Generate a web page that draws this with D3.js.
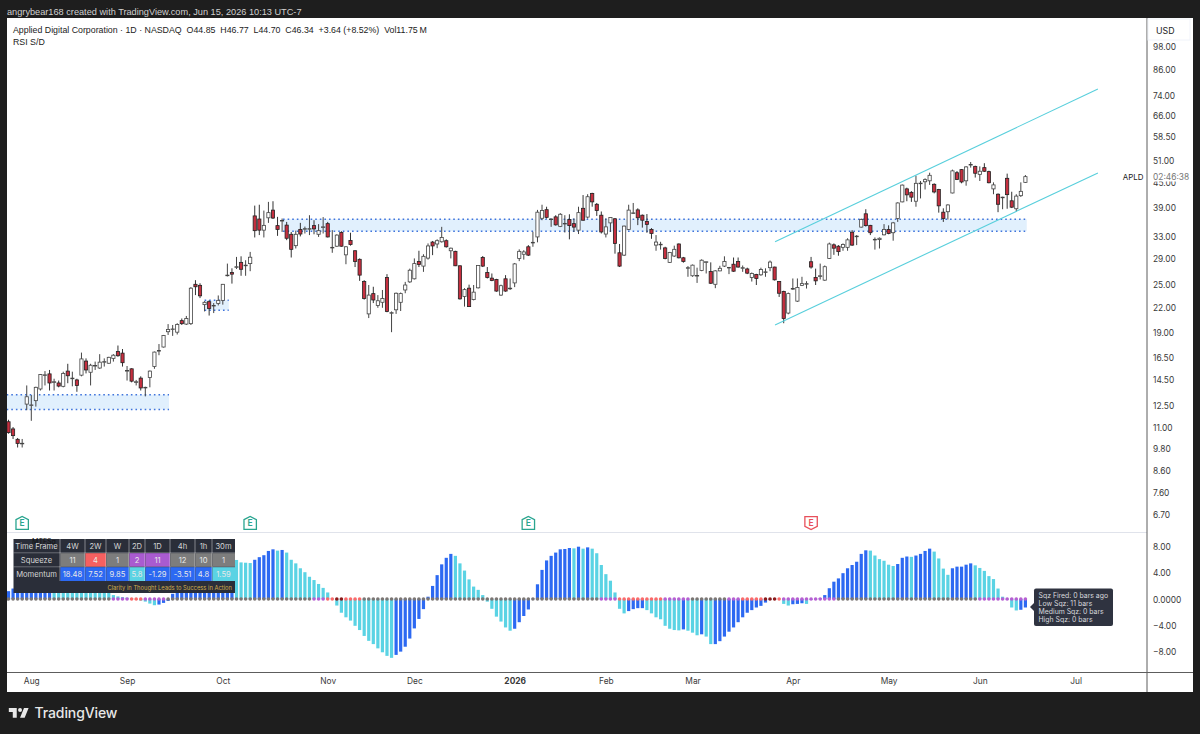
<!DOCTYPE html>
<html>
<head>
<meta charset="utf-8">
<script src="https://cdn.jsdelivr.net/npm/d3@7"></script>
<style>
  html, body { margin: 0; padding: 0; background: #1e1e1e; }
  svg { display: block; font-family: Inter, "Liberation Sans", sans-serif; }
</style>
</head>
<body>
<svg id="chart" width="1200" height="734"></svg>
<script>
// daily candles, APLD, one entry per trading day from late Jul 2025
const opens = [11.37,10.91,10.28,10.02,12.58,12.5,12.83,13.72,14.84,14.96,
  14.25,14.2,13.93,15.2,14.55,14.45,14.85,16.1,15.1,15.65,
  15.47,16.0,15.9,16.35,17.0,16.85,15.2,15.4,14.25,14.6,
  13.82,14.65,15.6,17.05,17.45,19.05,19.3,19.0,20.3,19.9,
  19.95,25.0,24.85,22.25,22.63,22.12,22.4,22.8,26.3,26.75,
  27.6,28.35,27.85,28.15,37.0,36.35,34.1,36.6,38.25,35.0,
  36.0,35.1,33.3,31.2,34.25,34.35,34.35,35.0,33.3,34.7,
  35.4,30.85,31.1,33.65,29.6,32.15,30.3,28.85,25.4,21.1,
  23.7,22.15,22.55,26.0,21.2,21.6,22.55,24.2,25.35,25.8,
  28.5,27.75,29.05,31.85,31.5,31.9,32.1,30.3,30.2,27.8,
  23.3,24.45,22.9,24.5,29.15,26.75,25.9,25.7,23.5,25.8,
  24.4,25.2,29.0,29.7,31.0,31.75,32.8,36.5,38.35,36.3,
  36.8,34.85,35.4,36.25,35.4,34.1,38.65,36.75,42.1,39.55,
  37.15,33.35,35.55,36.4,29.95,29.55,34.25,37.6,38.3,37.15,
  35.85,34.25,31.3,31.4,30.8,28.35,29.4,31.5,29.1,27.45,
  26.25,26.25,27.05,28.4,26.9,25.0,27.0,27.75,27.5,28.05,
  28.5,27.45,27.3,26.0,26.45,26.4,26.8,27.5,27.6,25.4,
  24.0,21.2,24.35,22.7,24.85,25.05,28.45,26.0,26.2,25.6,
  29.0,31.35,31.1,30.9,30.9,33.7,32.9,34.7,37.45,35.05,
  32.3,32.3,33.2,34.25,33.6,36.45,40.1,43.2,42.35,40.25,
  44.6,45.0,45.25,44.35,43.05,37.8,37.9,42.2,47.4,48.25,
  45.25,49.6,49.15,46.95,48.8,47.7,43.2,41.9,41.1,45.9,
  40.35,38.55,41.55,44.85];
const highs = [11.5,11.03,10.36,10.3,14.0,13.25,13.9,14.95,15.2,15.3,
  14.55,14.4,15.15,15.85,15.15,14.55,16.9,16.35,15.85,16.05,
  16.75,16.35,16.5,16.75,17.6,17.25,15.65,15.45,14.45,14.75,
  13.9,15.25,17.0,17.75,18.7,19.9,19.8,20.0,20.55,20.85,
  24.6,25.6,25.15,22.7,22.8,22.45,23.45,25.05,28.15,27.4,
  29.25,29.35,28.7,30.1,39.25,39.45,38.15,40.1,40.25,36.8,
  36.45,35.75,33.75,34.0,35.55,34.8,37.15,36.1,35.3,36.75,
  35.75,34.1,33.3,33.9,31.1,33.6,30.4,29.0,25.6,24.9,
  24.65,23.5,24.2,26.5,21.4,23.85,23.85,25.35,27.35,29.0,
  30.3,29.7,31.6,32.05,32.35,34.75,32.35,30.85,30.3,27.85,
  24.45,24.95,24.9,27.9,29.4,27.6,26.6,25.8,24.95,26.35,
  25.85,28.25,30.55,30.4,31.3,33.8,38.3,39.45,39.0,36.45,
  37.15,37.6,37.15,37.35,36.45,39.0,41.7,41.9,42.25,39.85,
  37.95,36.45,36.65,36.5,31.5,35.0,39.45,39.85,38.65,37.3,
  37.4,34.5,33.15,31.9,31.0,30.1,31.2,31.6,29.25,27.75,
  28.0,27.5,28.85,28.45,28.35,27.1,27.8,29.35,27.6,29.15,
  29.15,27.85,27.5,26.75,26.55,27.5,27.4,28.65,27.65,25.45,
  24.1,23.85,25.85,25.85,26.1,25.45,29.25,27.35,28.15,27.85,
  31.75,31.6,31.3,31.6,32.55,34.1,33.15,36.45,38.45,35.15,
  32.7,32.7,35.3,35.05,35.75,40.0,44.3,43.5,42.65,46.6,
  45.2,45.9,47.4,44.6,43.2,38.65,39.55,48.25,47.85,48.4,
  49.2,50.4,49.35,49.15,50.05,47.95,44.85,42.1,41.3,47.15,
  42.5,41.9,44.85,46.77];
const lows = [10.62,10.3,9.81,9.81,12.15,11.43,12.4,13.6,14.0,13.6,
  13.6,13.85,13.85,14.18,13.93,13.5,14.75,15.0,14.0,15.3,
  15.4,15.6,15.85,16.05,16.5,15.6,14.4,14.25,14.0,13.6,
  13.15,13.85,15.4,16.65,17.4,18.7,18.6,18.75,19.8,19.8,
  19.8,23.5,23.1,21.4,20.9,21.2,22.15,22.25,26.15,25.1,
  27.3,26.25,26.25,26.95,32.7,33.15,32.7,35.55,36.35,33.0,
  33.75,32.2,29.15,30.7,32.9,33.45,33.15,33.3,32.8,33.45,
  32.7,29.95,31.0,31.0,28.05,31.2,27.6,25.5,22.9,20.6,
  22.45,21.85,21.85,21.3,19.0,21.1,21.45,23.75,25.2,25.7,
  27.6,26.85,28.8,29.55,30.75,31.75,30.85,29.0,27.75,22.9,
  22.0,21.95,22.8,24.4,27.6,25.85,25.45,23.95,23.4,23.95,
  24.2,24.6,28.55,28.8,29.4,31.0,31.8,36.1,36.45,34.75,
  35.0,34.7,33.65,32.35,33.75,33.35,36.0,36.45,39.0,37.0,
  33.45,32.7,33.75,29.8,27.6,29.4,34.1,37.4,35.1,34.6,
  33.6,32.45,30.3,30.5,28.85,28.25,29.25,29.0,28.3,26.1,
  26.1,25.2,26.95,26.6,25.05,24.45,26.95,27.6,26.5,26.85,
  27.5,26.85,26.5,25.4,24.9,26.25,26.1,26.95,25.55,23.25,
  20.0,21.05,24.2,22.6,24.75,24.4,27.35,24.9,25.7,25.5,
  28.9,29.6,29.45,30.3,30.3,31.15,31.3,34.6,34.8,33.15,
  30.5,30.7,33.1,33.3,32.1,35.75,40.0,40.25,40.1,39.0,
  40.9,43.05,44.2,42.1,37.7,35.75,36.25,42.1,45.45,44.6,
  44.0,48.8,46.1,45.2,47.6,44.6,41.9,37.8,38.45,38.55,
  38.7,37.9,41.25,44.7];
const closes = [10.68,10.5,10.04,10.05,13.12,12.52,13.85,14.9,14.88,14.2,
  14.3,13.95,15.0,14.8,14.6,14.0,16.3,15.3,15.72,15.7,
  16.0,16.05,16.45,16.65,16.6,15.95,15.25,14.35,14.3,13.8,
  13.85,15.2,16.95,17.1,18.65,19.3,19.35,19.85,19.95,20.55,
  24.45,24.65,23.4,22.55,21.75,22.15,22.8,25.0,26.35,26.5,
  27.65,27.25,27.9,29.2,34.0,34.1,35.05,37.7,36.55,34.25,
  36.05,32.55,30.55,33.3,33.35,34.4,34.4,34.35,34.0,34.75,
  32.8,30.9,33.15,31.1,31.0,31.4,28.5,26.35,23.05,23.5,
  22.85,22.75,23.05,21.4,21.25,23.75,23.7,24.9,27.1,28.15,
  28.0,29.35,31.15,31.15,32.1,32.7,31.0,30.75,27.8,23.0,
  24.25,22.0,23.9,27.85,27.75,26.0,25.55,24.05,24.8,24.05,
  24.45,28.1,30.2,30.1,29.55,31.8,37.8,38.15,36.7,36.35,
  35.15,37.35,35.45,35.0,34.7,37.7,36.1,41.3,40.1,38.15,
  33.75,34.75,36.65,31.6,27.75,34.9,38.25,37.65,36.6,36.1,
  35.25,33.45,31.85,31.45,29.0,30.0,30.55,29.1,28.5,27.5,
  27.9,26.3,28.7,28.45,25.15,27.0,27.4,28.5,27.55,26.95,
  27.6,27.5,26.65,26.6,25.85,27.2,26.85,28.4,25.65,23.75,
  20.55,23.7,24.4,24.55,25.1,25.1,27.6,25.5,26.25,27.65,
  31.5,30.75,30.15,31.4,32.25,31.3,32.95,36.25,35.0,33.6,
  32.35,32.55,34.25,33.45,35.55,39.85,44.15,41.75,41.2,44.6,
  44.65,45.55,46.7,42.45,39.2,36.45,39.4,47.9,45.6,44.95,
  49.0,49.7,47.25,47.8,47.8,44.75,44.2,39.55,41.2,41.8,
  38.9,41.45,42.6,46.34];

// squeeze momentum histogram, same bars as the candles
const momentum = [1.2,1.6,2.0,2.5,3.0,3.5,3.9,4.2,4.4,4.4,
  4.2,4.0,3.7,3.4,3.1,2.8,2.5,2.2,1.9,1.6,
  1.3,1.1,1.0,0.6,0.4,0.3,0.2,0.1,-0.1,-0.25,
  -0.4,-0.7,-0.95,-0.85,-0.6,-0.3,0.8,1.3,1.7,2.1,
  2.6,3.1,3.5,3.9,4.3,4.8,5.2,5.6,5.9,6.2,
  5.97,5.6,5.55,5.5,6.0,6.4,6.7,7.35,7.6,7.4,
  7.5,7.1,6.0,5.45,4.7,4.1,3.4,2.9,2.3,1.7,
  1.0,0.1,-1.0,-2.1,-2.8,-3.3,-4.1,-4.75,-5.65,-6.4,
  -6.9,-7.55,-8.15,-8.7,-9.0,-8.55,-8.05,-7.3,-6.05,-4.5,
  -3.05,-1.55,0.35,2.0,3.65,5.3,6.3,6.9,6.6,5.45,
  4.35,3.0,1.9,1.4,0.6,-0.4,-1.5,-2.7,-3.45,-4.35,
  -4.85,-4.55,-3.55,-2.6,-1.6,0.05,2.25,4.45,5.9,6.6,
  7.1,7.6,7.65,7.8,7.75,8.0,7.7,7.9,7.7,7.0,
  5.2,3.8,2.8,1.0,-1.5,-2.2,-1.85,-1.55,-1.4,-1.4,
  -1.7,-2.2,-2.8,-3.1,-4.1,-4.55,-4.75,-4.8,-4.65,-4.85,
  -5.15,-5.55,-5.4,-5.75,-6.9,-6.9,-6.45,-5.75,-5.0,-4.35,
  -3.55,-2.8,-2.1,-1.7,-1.3,-1.05,-0.55,-0.1,-0.05,0.02,
  -0.75,-1.0,-0.8,-0.75,-0.65,-0.75,-0.1,-0.05,0.1,0.6,
  1.65,2.65,3.15,3.95,4.7,5.2,5.7,6.9,7.45,7.4,
  6.65,6.1,5.85,5.25,5.05,5.35,6.3,6.5,6.45,6.65,
  6.9,7.35,7.7,7.25,6.2,4.65,3.7,4.7,4.95,4.95,
  5.25,5.45,5.15,4.75,4.3,3.5,3.05,1.6,0.35,-0.1,
  -1.3,-1.75,-1.65,-1.3];

// squeeze dots on the zero line, as runs of bars
const squeezeRunLast = [22,26,29,34,66,69,71,73,77,129,133,143,149,157,160,165,168,169,181,212,223];
const squeezeRunState = ["none","low","mid","low","none","low","mid","high","mid","none","low","mid","low","none","low","mid","high","mid","low","none","low"];

const priceTicks = [98,86,74,66,58.5,51,45,39,33,29,25,22,19,16.5,14.5,12.5,11,9.8,8.6,7.6,6.7];
const momentumTicks = [8,4,0,-4,-8];
const monthLabels = ["Aug","Sep","Oct","Nov","Dec","2026","Feb","Mar","Apr","May","Jun","Jul"];
const monthBars = [5,26,47,70,89,111,131,150,172,193,213,234];
const earningsBars = [3,53,114,176];
const earningsBeat = [true,true,true,false];

// demand zones [first bar, last bar, top price, bottom price]
const zoneStart = [-0.4,43,60.2];
const zoneEnd = [35.2,48.3,223.3];
const zoneTop = [13.27,22.8,36.3];
const zoneBottom = [12.2,21.55,33.9];

// channel lines
const channelBars = [168.1,238.9];
const channelUpper = [31.9,76.6];
const channelLower = [19.8,47.35];

// MTF table
const tableFrames = ["4W","2W","W","2D","1D","4h","1h","30m"];
const tableSqueeze = [11,4,1,2,11,12,10,1];
const tableSqueezeState = ["none","high","none","low","low","none","none","none"];
const tableMomentum = ["18.48","7.52","9.85","5.8","-1.29","-3.51","4.8","1.59"];
const tableMomentumUp = [true,true,true,false,true,true,true,false];

const tooltipLines = ["Sqz Fired: 0 bars ago","Low Sqz: 11 bars","Medium Sqz: 0 bars","High Sqz: 0 bars"];

const bg = "#1e1e1e";
const darkBlue = "#2c69f2";
const lightBlue = "#5ad3e4";
const dotColor = {none: "#7b7674", low: "#b65fd2", mid: "#fb6a6a", high: "#8b1a1a"};
const tableCellColor = {none: "#7d7d7d", low: "#a95bd0", high: "#f66060"};
const labelFont = '"Liberation Sans", Arial, sans-serif';

const svg = d3.select("#chart");

// scales
const x = d3.scaleLinear().domain([0, 223]).range([8.5, 1025.4]);
const y = d3.scaleLog().domain([98, 6.7]).range([46, 514]);
const m = d3.scaleLinear().domain([8, -8]).range([546.7, 651.3]);

// panel
svg.append("rect").attr("width", 1200).attr("height", 734).attr("fill", bg);
svg.append("rect").attr("x", 7).attr("y", 18).attr("width", 1186).attr("height", 674).attr("fill", "#fff");

svg.append("defs").append("clipPath").attr("id", "plot")
  .append("rect").attr("x", 7).attr("y", 18).attr("width", 1140).attr("height", 654);

const plot = svg.append("g").attr("clip-path", "url(#plot)");

// zones
zoneStart.forEach(function(s, i) {
  const x0 = x(s), x1 = x(zoneEnd[i]), y0 = y(zoneTop[i]), y1 = y(zoneBottom[i]);
  plot.append("rect").attr("x", x0).attr("y", y0).attr("width", x1 - x0).attr("height", y1 - y0).attr("fill", "#e1f0fd");
  [y0, y1].forEach(function(ly) {
    plot.append("line").attr("x1", x0).attr("x2", x1).attr("y1", ly).attr("y2", ly)
      .attr("stroke", "#3f74dc").attr("stroke-width", 1.5).attr("stroke-dasharray", "1.6 3");
  });
});

// candles
const bars = d3.range(opens.length);
const candle = plot.append("g").selectAll("g").data(bars).enter().append("g");
candle.append("line")
  .attr("x1", i => x(i)).attr("x2", i => x(i))
  .attr("y1", i => y(highs[i])).attr("y2", i => y(lows[i]))
  .attr("stroke", i => closes[i] >= opens[i] ? "#444" : "#333")
  .attr("stroke-width", 1);
candle.append("rect")
  .attr("x", i => x(i) - 1.6)
  .attr("width", 3.2)
  .attr("y", i => y(Math.max(opens[i], closes[i])))
  .attr("height", i => Math.max(0.6, Math.abs(y(opens[i]) - y(closes[i]))))
  .attr("fill", i => closes[i] >= opens[i] ? "#fff" : "#c62f3f")
  .attr("stroke", i => closes[i] >= opens[i] ? "#444" : "#222")
  .attr("stroke-width", 0.8);

// channel
[channelUpper, channelLower].forEach(function(line) {
  plot.append("line")
    .attr("x1", x(channelBars[0])).attr("y1", y(line[0]))
    .attr("x2", x(channelBars[1])).attr("y2", y(line[1]))
    .attr("stroke", "#58cfdc").attr("stroke-width", 1.1);
});

// earnings flags
earningsBars.forEach(function(b, i) {
  const c = earningsBeat[i] ? "#2aa58f" : "#e8505b";
  const g = svg.append("g").attr("transform", `translate(${x(b)},523)`);
  const shape = earningsBeat[i] ? "M-6.2,-3.4L0,-6.6L6.2,-3.4V6.4H-6.2Z" : "M-6.2,-6.4H6.2V3.4L0,6.6L-6.2,3.4Z";
  g.append("path").attr("d", shape).attr("fill", "#fff").attr("stroke", c).attr("stroke-width", 1.3);
  g.append("text").attr("text-anchor", "middle").attr("y", 3.2).attr("font-size", 8.5).attr("font-weight", 600).attr("fill", c).text("E");
});

// indicator panel
svg.append("line").attr("x1", 7).attr("x2", 1147).attr("y1", 532.5).attr("y2", 532.5).attr("stroke", "#e0e3eb");
plot.append("g").selectAll("rect").data(bars).enter().append("rect")
  .attr("x", i => x(i) - 1.6)
  .attr("width", 3.2)
  .attr("y", i => Math.min(m(0), m(momentum[i])))
  .attr("height", i => Math.abs(m(momentum[i]) - m(0)))
  .attr("fill", i => i > 0 && momentum[i] < momentum[i - 1] ? lightBlue : darkBlue);

const dotState = bars.map(i => squeezeRunState[d3.bisectLeft(squeezeRunLast, i)]);
plot.append("g").selectAll("circle").data(bars).enter().append("circle")
  .attr("cx", i => x(i)).attr("cy", m(0)).attr("r", 1.8)
  .attr("fill", i => dotColor[dotState[i]]);

// axes
svg.append("line").attr("x1", 1147).attr("x2", 1147).attr("y1", 18).attr("y2", 692).attr("stroke", "#5d5d5d");
svg.append("line").attr("x1", 7).attr("x2", 1193).attr("y1", 672.5).attr("y2", 672.5).attr("stroke", "#5d5d5d");

const priceAxis = svg.append("g").attr("transform", "translate(1147,0.7)")
  .call(d3.axisRight(y).tickValues(priceTicks).tickFormat(d => d.toFixed(2)).tickSize(0).tickPadding(6));
const momentumAxis = svg.append("g").attr("transform", "translate(1147,0.3)")
  .call(d3.axisRight(m).tickValues(momentumTicks)
    .tickFormat(d => d === 0 ? "0.0000" : (d < 0 ? "\u2212" : "") + Math.abs(d).toFixed(2))
    .tickSize(0).tickPadding(6));
const timeAxis = svg.append("g").attr("transform", "translate(0,672.5)")
  .call(d3.axisBottom(x).tickValues(monthBars).tickFormat((d, i) => monthLabels[i]).tickSize(0).tickPadding(6));
[priceAxis, momentumAxis, timeAxis].forEach(function(a) {
  a.select(".domain").remove();
  a.selectAll("text").attr("font-family", "Inter").attr("font-size", 8.4).attr("fill", "#3a3a3a");
});
timeAxis.selectAll("text").filter(d => d === 111).attr("font-weight", 700);

// USD box and the last price labels
svg.append("rect").attr("x", 1148).attr("y", 19).attr("width", 42).attr("height", 21).attr("fill", "#fff").attr("stroke", "#f0f3fa");
svg.append("text").attr("x", 1156).attr("y", 34).attr("font-size", 8.8).attr("fill", "#222").text("USD");
svg.append("rect").attr("x", 1148).attr("y", 171).attr("width", 44).attr("height", 10.5).attr("fill", "#fff");
svg.append("text").attr("x", 1153).attr("y", 180).attr("font-size", 8.4).attr("fill", "#777").text("02:46:38");
svg.append("text").attr("x", 1143.5).attr("y", 180).attr("text-anchor", "end").attr("font-size", 7.9).attr("fill", "#222").text("APLD");

// headings
svg.append("text").attr("x", 7).attr("y", 14.5).attr("font-family", labelFont).attr("font-size", 9.2).attr("fill", "#d0d0d0")
  .text("angrybear168 created with TradingView.com, Jun 15, 2026 10:13 UTC-7");
svg.append("text").attr("x", 13).attr("y", 33).attr("font-family", labelFont).attr("font-size", 8.8).attr("fill", "#222")
  .attr("xml:space", "preserve").style("white-space", "pre")
  .text("Applied Digital Corporation \u00b7 1D \u00b7 NASDAQ  O44.85  H46.77  L44.70  C46.34  +3.64 (+8.52%)  Vol11.75\u2009M");
svg.append("text").attr("x", 13).attr("y", 45).attr("font-family", labelFont).attr("font-size", 8.8).attr("fill", "#222").text("RSI S/D");

// MTF table
const colEdges = [60,85,106,129,145,170,195,212,235];
const rowEdges = [539,553,567,581,593];
const table = svg.append("g").attr("font-size", 7.6).attr("text-anchor", "middle");
table.append("rect").attr("x", 13.5).attr("y", 539).attr("width", 221.5).attr("height", 54).attr("fill", "#2a2e39");
table.append("text").attr("x", 44).attr("y", 544).attr("fill", "#111").attr("font-size", 7).text("MTFSq");
[["Time Frame",0],["Squeeze",1],["Momentum",2]].forEach(function(r) {
  table.append("text").attr("x", 36.5).attr("y", rowEdges[r[1]] + 10).attr("fill", "#d5d5d5").text(r[0]);
});
table.append("line").attr("x1", 13.5).attr("x2", 235).attr("y1", 552.8).attr("y2", 552.8).attr("stroke", "#fff").attr("stroke-opacity", 0.5).attr("stroke-width", 0.6);
table.append("line").attr("x1", 13.5).attr("x2", 235).attr("y1", 566.8).attr("y2", 566.8).attr("stroke", "#fff").attr("stroke-opacity", 0.5).attr("stroke-width", 0.6);
tableFrames.forEach(function(f, i) {
  const cx0 = colEdges[i], cw = colEdges[i + 1] - cx0, cm = cx0 + cw / 2;
  table.append("line").attr("x1", cx0).attr("x2", cx0).attr("y1", 539).attr("y2", 581).attr("stroke", "#fff").attr("stroke-opacity", 0.6).attr("stroke-width", 0.7);
  table.append("text").attr("x", cm).attr("y", 549).attr("fill", "#d5d5d5").text(f);
  table.append("rect").attr("x", cx0 + 0.4).attr("y", 553.2).attr("width", cw - 0.4).attr("height", 13.4).attr("fill", tableCellColor[tableSqueezeState[i]]);
  table.append("text").attr("x", cm).attr("y", 563).attr("fill", "#e8e8e8").text(tableSqueeze[i]);
  table.append("rect").attr("x", cx0 + 0.4).attr("y", 567.2).attr("width", cw - 0.4).attr("height", 13.8).attr("fill", tableMomentumUp[i] ? darkBlue : lightBlue);
  table.append("text").attr("x", cm).attr("y", 577).attr("fill", "#e8e8e8").text(tableMomentum[i]);
});
table.append("text").attr("x", 232).attr("y", 590).attr("text-anchor", "end").attr("font-size", 5.8).attr("fill", "#d0ab4c")
  .text("Clarity in Thought Leads to Success in Action");

// squeeze tooltip
const tip = svg.append("g");
tip.append("path").attr("d", "M1034,603L1030,607L1034,611Z").attr("fill", "#2f3340");
tip.append("rect").attr("x", 1034).attr("y", 588.5).attr("width", 79).attr("height", 37.5).attr("rx", 2).attr("fill", "#2f3340");
tip.selectAll("text").data(tooltipLines).enter().append("text")
  .attr("x", 1038.5).attr("y", (d, i) => 597.5 + i * 8).attr("font-size", 6.9).attr("fill", "#d8d9dd").text(d => d);

// TradingView logo
svg.append("path").attr("transform", "translate(7.5,704) scale(0.66)")
  .attr("d", "M14 6H2v6h6v9h6V6zm12 15h-7l6-15h7l-6 15zm-7-9a3 3 0 1 0 0-6 3 3 0 0 0 0 6z").attr("fill", "#e8e8e8");
svg.append("text").attr("x", 34.5).attr("y", 718).attr("font-size", 14).attr("font-weight", 500).attr("letter-spacing", -0.1).attr("fill", "#e8e8e8").text("TradingView");
</script>
</body>
</html>
